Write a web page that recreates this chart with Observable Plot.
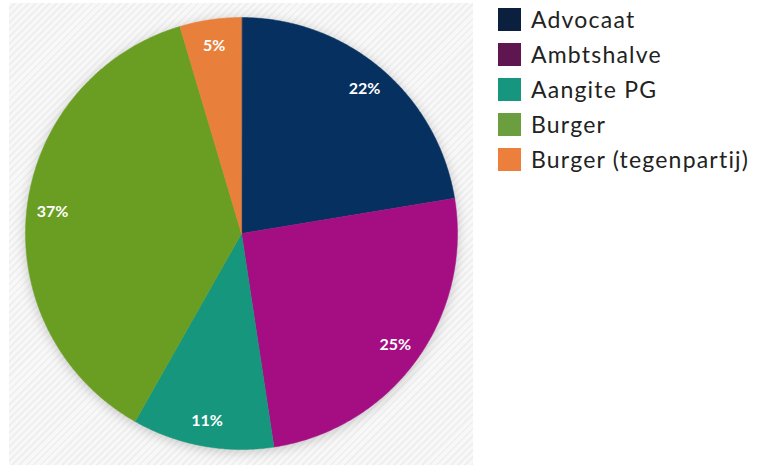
<!DOCTYPE html>
<html>
<head>
<meta charset="utf-8">
<script src="https://cdn.jsdelivr.net/npm/d3@7"></script>
<script src="https://cdn.jsdelivr.net/npm/@observablehq/plot@0.6"></script>
<style>
  html, body { margin: 0; padding: 0; background: #ffffff; }
  #wrap { position: relative; width: 759px; height: 468px; overflow: hidden; }
  #bg { position: absolute; left: 9px; top: 3px; width: 464px; height: 462px;
        background: repeating-linear-gradient(135deg, #f8f8f8 0px, #f8f8f8 3px, #efefef 3px, #efefef 5px); }
  #chart { position: absolute; left: 0; top: 0; }
  #chart svg g[aria-label="line"] { filter: drop-shadow(0px 2px 6px rgba(0,0,0,0.2)); }
  #legend { position: absolute; left: 498px; top: 8px; font-family: Lato, sans-serif; font-size: 23px; letter-spacing: 1.2px; color: #222; }
  .row { position: relative; height: 35px; }
  .sw { position: absolute; left: 0; top: 0; width: 23px; height: 23px; }
  .lb { position: absolute; left: 33px; top: -3px; white-space: nowrap; line-height: 28px; }
</style>
</head>
<body>
<div id="wrap">
  <div id="bg"></div>
  <div id="chart"></div>
  <div id="legend"></div>
</div>
<script>
const categories = ["Advocaat", "Ambtshalve", "Aangite PG", "Burger", "Burger (tegenpartij)"];
const values = [22.4, 25.2, 10.6, 37.2, 4.6];
const labels = ["22%", "25%", "11%", "37%", "5%"];
const sliceColors = ["#06305f", "#a50e82", "#15967d", "#6a9e22", "#e87f3b"];
const legendColors = ["#0b1f3e", "#5f1650", "#17967f", "#6a9e3e", "#ec7f3c"];

const total = d3.sum(values);
const slices = [];
const textPts = [];
let acc = 0;
values.forEach((v, i) => {
  const a0 = acc / total * 2 * Math.PI;
  acc += v;
  const a1 = acc / total * 2 * Math.PI;
  slices.push({cat: categories[i], x: 0, y: 0});
  const n = Math.max(2, Math.ceil((a1 - a0) / (Math.PI / 360)));
  for (let k = 0; k <= n; k++) {
    const a = a0 + (a1 - a0) * k / n;
    slices.push({cat: categories[i], x: Math.sin(a), y: Math.cos(a)});
  }
  const am = (a0 + a1) / 2;
  textPts.push({label: labels[i], x: 0.88 * Math.sin(am), y: 0.88 * Math.cos(am)});
});

const plot = Plot.plot({
  width: 759,
  height: 468,
  marginLeft: 25,
  marginRight: 302,
  marginTop: 17,
  marginBottom: 19,
  x: {domain: [-1, 1], axis: null},
  y: {domain: [-1, 1], axis: null},
  color: {domain: categories, range: sliceColors},
  style: {background: "transparent", overflow: "visible"},
  marks: [
    Plot.line(slices, {x: "x", y: "y", z: "cat", fill: "cat", stroke: "cat", strokeWidth: 0.5, curve: "linear-closed"}),
    Plot.text(textPts, {x: "x", y: "y", text: "label", fill: "white", fontSize: 16, fontWeight: "bold", fontFamily: "Lato, sans-serif"})
  ]
});
document.getElementById("chart").appendChild(plot);

const legend = document.getElementById("legend");
categories.forEach((c, i) => {
  const row = document.createElement("div");
  row.className = "row";
  const sw = document.createElement("div");
  sw.className = "sw";
  sw.style.background = legendColors[i];
  const lb = document.createElement("div");
  lb.className = "lb";
  lb.textContent = c;
  row.appendChild(sw);
  row.appendChild(lb);
  legend.appendChild(row);
});
</script>
</body>
</html>
